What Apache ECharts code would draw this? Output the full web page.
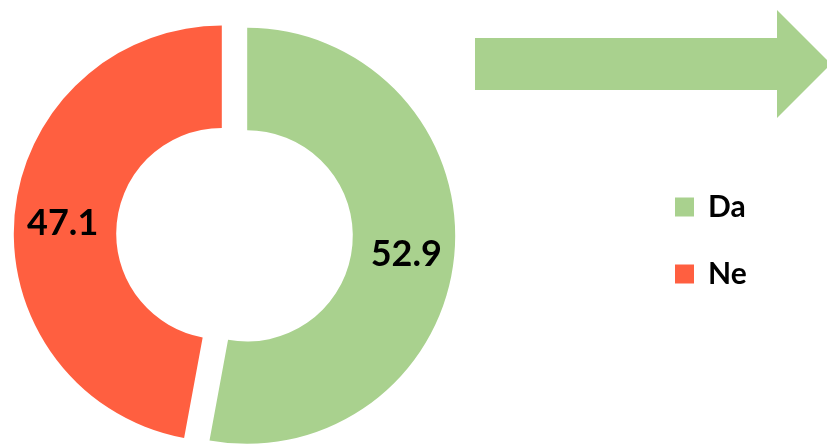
<!DOCTYPE html>
<html>
<head>
<meta charset="utf-8">
<script src="https://cdn.jsdelivr.net/npm/echarts@6/dist/echarts.min.js"></script>
<style>
  html, body { margin: 0; padding: 0; background: #fff; }
  #chart { width: 827px; height: 444px; }
</style>
</head>
<body>
<div id="chart"></div>
<script>
// categories and values
const categories = ['Da', 'Ne']
const values = [52.9, 47.1]
const colors = ['#A9D18E', '#FF5F40']

const chart = echarts.init(document.getElementById('chart'))

const baseCenter = [234.5, 234.7]
const explode = 12.75 // each slice pushed out along its bisector
const total = values.reduce((a, b) => a + b, 0)

// one pie series per slice, so each slice can be offset separately (exploded donut)
let acc = 0
const seriesArr = categories.map((name, i) => {
  const mid = (acc + values[i] / 2) / total * Math.PI * 2
  acc += values[i]
  const dx = Math.sin(mid) * explode
  const dy = -Math.cos(mid) * explode
  return {
    type: 'pie',
    center: [baseCenter[0] + dx, baseCenter[1] + dy],
    radius: [105.6, 208],
    startAngle: 90,
    clockwise: true,
    emphasis: { disabled: true },
    labelLine: { show: false },
    label: {
      position: 'inside',
      formatter: '{v|{c}}',
      rich: {
        v: {
          fontFamily: 'Lato',
          fontWeight: 'bold',
          fontSize: 36,
          color: '#000',
          padding: [8, 0, 0, 0] // nudge down a bit
        }
      }
    },
    data: categories.map((n, j) => ({
      name: n,
      value: values[j],
      itemStyle: { color: j === i ? colors[j] : 'transparent' },
      label: { show: j === i }
    }))
  }
})

chart.setOption({
  animation: false,
  legend: {
    orient: 'vertical',
    left: 670,
    top: 187,
    itemWidth: 19,
    itemHeight: 19,
    itemGap: 37,
    icon: 'rect',
    selectedMode: false,
    data: categories.map((n, i) => ({ name: n, itemStyle: { color: colors[i] } })),
    textStyle: {
      fontFamily: 'Lato',
      fontWeight: 'bold',
      fontSize: 30,
      lineHeight: 30,
      color: '#000',
      padding: [0, 0, 0, 9]
    }
  },
  graphic: [{
    // big green arrow, top right
    type: 'polygon',
    shape: {
      points: [[475, 38], [777, 38], [777, 10], [831, 64], [777, 118], [777, 90], [475, 90]]
    },
    style: { fill: '#A9D18E' },
    silent: true
  }],
  series: seriesArr
})
</script>
</body>
</html>
